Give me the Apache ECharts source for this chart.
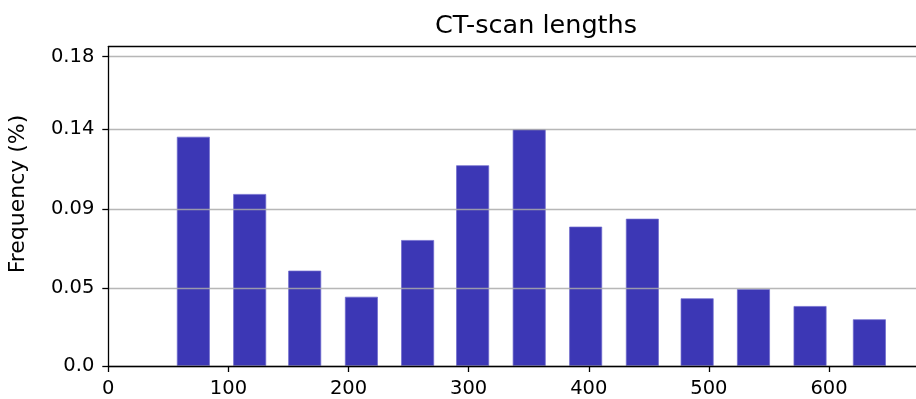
<!DOCTYPE html>
<html>
<head>
	<meta charset="utf-8">
	<title>CT-scan lengths</title>
	<script src="https://cdn.jsdelivr.net/npm/echarts@6/dist/echarts.min.js"></script>
	<style type="text/css">
		html, body { margin: 0; padding: 0; background: #ffffff; }
		#chartContainer { width: 916px; height: 399px; }
	</style>
</head>
<body>
	<div id="chartContainer"></div>
	<script type="text/javascript">
		// bin centres (scan length) and frequency of each bin
		var binCenters = [70.8, 117.7, 163.5, 210.7, 257.5, 303.3, 350.4, 397.4, 444.6, 490.2, 537.1, 584.2, 633.6];
		var frequencies = [0.1334, 0.1001, 0.0555, 0.0403, 0.0733, 0.1168, 0.1378, 0.0811, 0.0857, 0.0394, 0.0448, 0.0349, 0.0272];
		// y ticks sit at uneven values, labels are rounded
		var yTickValues = [0, 0.0452, 0.0915, 0.1378, 0.18];
		var yTickLabels = ['0.0', '0.05', '0.09', '0.14', '0.18'];
		var xTickValues = [0, 100, 200, 300, 400, 500, 600];

		var FONT = 'DejaVu Sans';
		var barData = [];
		for (var i = 0; i < binCenters.length; i++) {
			barData.push([binCenters[i], frequencies[i]]);
		}

		var myChart = echarts.init(document.getElementById('chartContainer'));
		var option = {
			animation: false,
			backgroundColor: '#ffffff',
			title: {
				text: 'CT-scan lengths',
				left: 430,
				top: 8,
				textStyle: { fontFamily: FONT, fontSize: 25.5, fontWeight: 'normal', color: '#000' }
			},
			graphic: [{
				type: 'text',
				x: 18.5,
				y: 194,
				rotation: Math.PI / 2,
				style: {
					text: 'Frequency (%)',
					font: '22px "DejaVu Sans"',
					fill: '#000',
					align: 'center',
					verticalAlign: 'middle'
				}
			}],
			grid: { left: 108.3, top: 46.7, right: 0, bottom: 33 },
			xAxis: [{
				type: 'value',
				min: 0,
				max: 672.4,
				z: 6,
				axisLine: { show: true, lineStyle: { color: '#000', width: 1.3 } },
				axisTick: { show: true, length: 6, lineStyle: { color: '#000', width: 1.3 }, customValues: xTickValues },
				axisLabel: { fontFamily: FONT, fontSize: 19.5, color: '#000', margin: 13, customValues: xTickValues },
				splitLine: { show: false }
			}, {
				type: 'value',
				position: 'top',
				min: 0,
				max: 672.4,
				z: 6,
				axisLine: { show: true, lineStyle: { color: '#000', width: 1.3 } },
				axisTick: { show: false },
				axisLabel: { show: false },
				splitLine: { show: false }
			}],
			yAxis: {
				type: 'value',
				min: 0,
				max: 0.1858,
				z: 5,
				axisLine: { show: true, lineStyle: { color: '#000', width: 1.3 } },
				axisTick: { show: true, length: 6, lineStyle: { color: '#000', width: 1.3 }, customValues: yTickValues },
				axisLabel: {
					fontFamily: FONT, fontSize: 19.5, color: '#000', margin: 14,
					customValues: yTickValues,
					formatter: function (v) {
						for (var k = 0; k < yTickValues.length; k++) {
							if (Math.abs(yTickValues[k] - v) < 1e-6) return yTickLabels[k];
						}
						return '';
					}
				},
				splitLine: { show: true, lineStyle: { color: 'rgba(170,170,170,0.85)', width: 1.4 } }
			},
			series: [{
				type: 'bar',
				data: barData,
				barWidth: 33,
				itemStyle: { color: '#3c37b5', borderColor: 'rgba(110,106,205,0.9)', borderWidth: 0.8 }
			}]
		};
		myChart.setOption(option);
	</script>
</body>
</html>
